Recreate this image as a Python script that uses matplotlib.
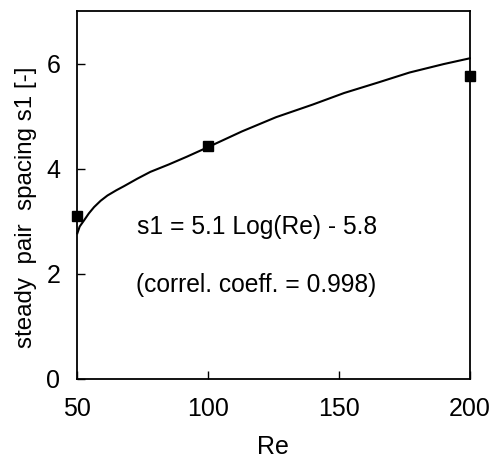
import matplotlib
matplotlib.use('Agg')
import matplotlib.pyplot as pyplot

pyplot.rcParams['font.family'] = ['Liberation Sans', 'DejaVu Sans']

# measured points
re_data = [50, 100, 200]
s1_data = [3.10, 4.43, 5.77]

# fitted curve
re_fit = [50.1, 51, 52.7, 54.5, 56.5, 59, 61.6, 65, 68, 73, 78, 85, 92, 100,
          113, 126, 140, 152, 165, 177, 190, 200]
s1_fit = [2.77, 2.90, 3.02, 3.15, 3.27, 3.39, 3.49, 3.59, 3.67, 3.81, 3.94, 4.08,
          4.23, 4.41, 4.71, 4.98, 5.22, 5.44, 5.64, 5.83, 5.99, 6.10]

x_ticks = [50, 100, 150, 200]
y_ticks = [0, 2, 4, 6]

fig = pyplot.figure(figsize=(4.94, 4.58), dpi=100)
ax = fig.add_axes([0.156, 0.1725, 0.795, 0.8035])

ax.plot(re_fit, s1_fit, color='black', linewidth=1.5, clip_on=False)
ax.plot(re_data, s1_data, linestyle='none', marker='s', markersize=7,
        color='black', clip_on=False, zorder=5)

ax.set_xlim(50, 200)
ax.set_ylim(0, 7)
ax.set_xticks(x_ticks)
ax.set_yticks(y_ticks)
ax.tick_params(direction='in', length=6, width=1, labelsize=18,
               top=False, right=False)
ax.tick_params(axis='x', pad=13)
ax.tick_params(axis='y', pad=12)
for s in ax.spines.values():
    s.set_linewidth(1.3)

ax.set_xlabel('Re', fontsize=18, labelpad=10)
ax.set_ylabel('steady  pair  spacing s1 [-]', fontsize=17.4)
ax.yaxis.set_label_coords(-0.103, 0.466)

ax.text(72.9, 2.9, 's1 = 5.1 Log(Re) - 5.8', fontsize=17.7, ha='left', va='center')
ax.text(72.5, 1.79, '(correl. coeff. = 0.998)', fontsize=17.7, ha='left', va='center')

pyplot.savefig('out.png', dpi=100)
